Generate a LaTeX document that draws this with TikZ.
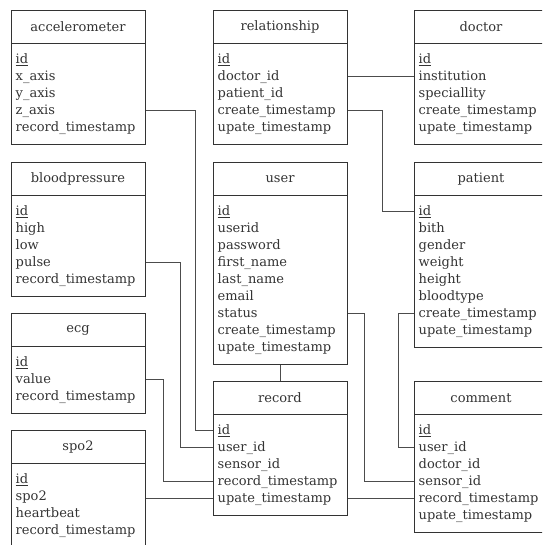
\documentclass[tikz,border=0pt]{standalone}
\usepackage{fontspec}
\setmainfont{DejaVu Serif}
\newcommand\dbtable[7]{% name, left, top, width, n, title, fields
  \node[tbox, minimum width=#4pt, minimum height=49pt+17pt*#5] (#1) at (#2,#3) {};
  \draw[tline] (#1.north west) ++(0,33.5) -- ++(#4,0);
  \path (#2+67,#3+17) node[ttl] (#1t) {#6};
  \foreach \f [count=\i from 0] in {#7}
    \node[field] (#1\i) at (#2+4.5, #3+49+17*\i) {\f};
}
\begin{document}
\begin{tikzpicture}[x=1pt,y=-1pt,
  tbox/.style={draw=black!80, line width=0.9pt, anchor=north west, inner sep=0pt},
  tline/.style={draw=black!80, line width=0.9pt},
  field/.style={anchor=west, inner sep=0pt, text height=9.5pt, text depth=0.5pt,
    font=\fontsize{13}{15}\selectfont, text=black!80},
  ttl/.style={inner sep=0pt, font=\fontsize{13}{15}\selectfont, text=black!80},
  conn/.style={draw=black!70, line width=0.9pt}]
\useasboundingbox (0,0) rectangle (542,545);
\clip (0,0) rectangle (542,545);

\dbtable{acc}{11}{10}{134}{5}{accelerometer}{\underline{id},x\_axis,y\_axis,z\_axis,record\_timestamp}
\dbtable{rel}{213}{10}{134}{5}{relationship}{\underline{id},doctor\_id,patient\_id,create\_timestamp,upate\_timestamp}
\dbtable{doc}{414}{10}{160}{5}{doctor}{\underline{id},institution,speciallity,create\_timestamp,upate\_timestamp}
\dbtable{bp}{11}{162}{134}{5}{bloodpressure}{\underline{id},high,low,pulse,record\_timestamp}
\dbtable{usr}{213}{162}{134}{9}{user}{\underline{id},userid,password,first\_name,last\_name,email,status,create\_timestamp,upate\_timestamp}
\dbtable{pat}{414}{162}{160}{8}{patient}{\underline{id},bith,gender,weight,height,bloodtype,create\_timestamp,upate\_timestamp}
\dbtable{ecg}{11}{313}{134}{3}{ecg}{\underline{id},value,record\_timestamp}
\dbtable{rec}{213}{381}{134}{5}{record}{\underline{id},user\_id,sensor\_id,record\_timestamp,upate\_timestamp}
\dbtable{com}{414}{381}{160}{6}{comment}{\underline{id},user\_id,doctor\_id,sensor\_id,record\_timestamp,upate\_timestamp}
\dbtable{spo}{11}{430}{134}{4}{spo2}{\underline{id},spo2,heartbeat,record\_timestamp}

\coordinate (xa) at (195,0);
\coordinate (xb) at (180,0);
\coordinate (xc) at (163,0);
\coordinate (xd) at (364,0);
\coordinate (xe) at (382,0);
\coordinate (xf) at (398,0);

\draw[conn] (acc.east |- acc3) -- (xa |- acc3) -- (xa |- rec0) -- (rec.west |- rec0);
\draw[conn] (bp.east |- bp3) -- (xb |- bp3) -- (xb |- rec1) -- (rec.west |- rec1);
\draw[conn] (ecg.east |- ecg1) -- (xc |- ecg1) -- (xc |- rec3) -- (rec.west |- rec3);
\draw[conn] (spo.east |- rec4) -- (rec.west |- rec4);
\draw[conn] (rec.east |- rec4) -- (com.west |- com4);
\draw[conn] (usr.east |- usr6) -- (xd |- usr6) -- (xd |- com3) -- (com.west |- com3);
\draw[conn] (pat.west |- pat6) -- (xf |- pat6) -- (xf |- com1) -- (com.west |- com1);
\draw[conn] (rel.east |- rel3) -- (xe |- rel3) -- (xe |- pat0) -- (pat.west |- pat0);
\draw[conn] (rel.east |- rel1) -- (doc.west |- doc1);
\draw[conn] (usr.south) -- (rec.north);
\end{tikzpicture}
\end{document}
